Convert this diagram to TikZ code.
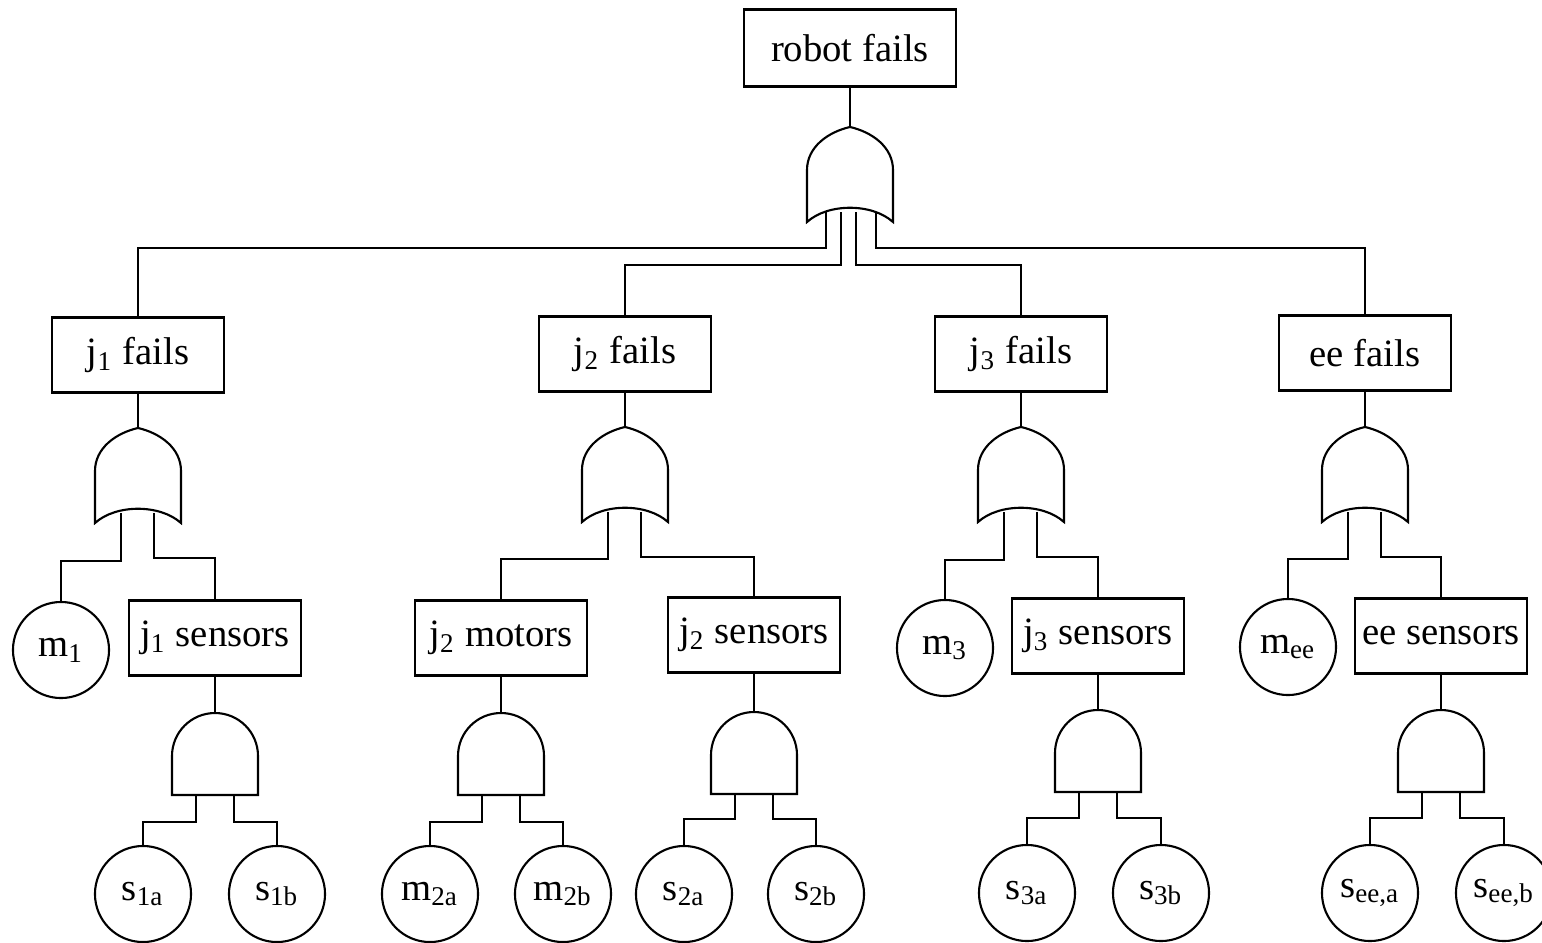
\documentclass[tikz,border=0pt]{standalone}
\usepackage{fontspec}
\setmainfont{Liberation Serif}
\usetikzlibrary{backgrounds}

\tikzset{
	event/.style={draw, fill=white, minimum width=1.72cm, minimum height=0.75cm, inner sep=0pt, font=\fontsize{11}{13}\selectfont},
	basic/.style={draw, circle, fill=white, minimum size=0.96cm, inner sep=0pt, font=\fontsize{11}{13}\selectfont},
	orgate/.pic={
		\draw[fill=white] (-43,95) -- (-43,43) .. controls (-43,20) and (-22,5) .. (0,0) .. controls (22,5) and (43,20) .. (43,43) -- (43,95) .. controls (22,76) and (-22,76) .. cycle;
		\coordinate (-in) at (0,0);
		\coordinate (-l) at (-17,85);
		\coordinate (-r) at (16,85);
		\coordinate (-a) at (-24,85);
		\coordinate (-b) at (-9,85);
		\coordinate (-c) at (6,85);
		\coordinate (-d) at (26,85);
	},
	andgate/.pic={
		\draw[fill=white] (-43,82) -- (-43,43) arc (180:360:43) -- (43,82) -- cycle;
		\coordinate (-in) at (0,0);
		\coordinate (-l) at (-19,80);
		\coordinate (-r) at (19,80);
	},
}

\begin{document}
\begin{tikzpicture}[x=0.01cm, y=-0.01cm, line width=0.6pt]
		\useasboundingbox (0,0) rectangle (1542,942);
		
		% top event
		\node[event, minimum width=2.12cm, minimum height=0.77cm] (root) at (850,48) {robot fails};
		\pic (g0) at (850,127) {orgate};
		
		% intermediate events
		\node[event] (j1f) at (138,355) {j\textsubscript{1} fails};
		\node[event] (j2f) at (625,354) {j\textsubscript{2} fails};
		\node[event] (j3f) at (1021,354) {j\textsubscript{3} fails};
		\node[event] (eef) at (1365,353) {ee fails};
		\pic (g1) at (138,428) {orgate};
		\pic (g2) at (625,427) {orgate};
		\pic (g3) at (1021,427) {orgate};
		\pic (g4) at (1365,427) {orgate};
		
		\node[basic] (m1) at (61,650) {m\textsubscript{1}};
		\node[event] (j1s) at (215,638) {j\textsubscript{1} sensors};
		\node[event] (j2m) at (501,638) {j\textsubscript{2} motors};
		\node[event] (j2s) at (754,635) {j\textsubscript{2} sensors};
		\node[basic] (m3) at (945,648) {m\textsubscript{3}};
		\node[event] (j3s) at (1098,636) {j\textsubscript{3} sensors};
		\node[basic] (mee) at (1288,647) {m\textsubscript{ee}};
		\node[event] (ees) at (1441,636) {ee sensors};
		
		\pic (a1) at (215,713) {andgate};
		\pic (a2) at (501,713) {andgate};
		\pic (a3) at (754,712) {andgate};
		\pic (a4) at (1098,710) {andgate};
		\pic (a5) at (1441,710) {andgate};
		
		% basic events
		\node[basic] (s1a) at (143,894) {s\textsubscript{1a}};
		\node[basic] (s1b) at (277,894) {s\textsubscript{1b}};
		\node[basic] (m2a) at (430,894) {m\textsubscript{2a}};
		\node[basic] (m2b) at (563,894) {m\textsubscript{2b}};
		\node[basic] (s2a) at (684,894) {s\textsubscript{2a}};
		\node[basic] (s2b) at (816,894) {s\textsubscript{2b}};
		\node[basic] (s3a) at (1027,893) {s\textsubscript{3a}};
		\node[basic] (s3b) at (1161,893) {s\textsubscript{3b}};
		\node[basic] (seea) at (1370,893) {s\textsubscript{ee,a}};
		\node[basic] (seeb) at (1504,893) {s\textsubscript{ee,b}};
		
		\begin{scope}[on background layer]
		\draw (root) -- (g0-in);
		\draw (g0-a) -- ++(0,36) -| (j1f.north);
		\draw (g0-b) -- ++(0,53) -| (j2f.north);
		\draw (g0-c) -- ++(0,53) -| (j3f.north);
		\draw (g0-d) -- ++(0,36) -| (eef.north);
		
		\draw (j1f) -- (g1-in);
		\draw (j2f) -- (g2-in);
		\draw (j3f) -- (g3-in);
		\draw (eef) -- (g4-in);
		\draw (g1-l) -- ++(0,48) -| (m1.north);
		\draw (g1-r) -- ++(0,45) -| (j1s.north);
		\draw (g2-l) -- ++(0,47) -| (j2m.north);
		\draw (g2-r) -- ++(0,45) -| (j2s.north);
		\draw (g3-l) -- ++(0,48) -| (m3.north);
		\draw (g3-r) -- ++(0,45) -| (j3s.north);
		\draw (g4-l) -- ++(0,47) -| (mee.north);
		\draw (g4-r) -- ++(0,45) -| (ees.north);
		
		\draw (j1s) -- (a1-in);
		\draw (j2m) -- (a2-in);
		\draw (j2s) -- (a3-in);
		\draw (j3s) -- (a4-in);
		\draw (ees) -- (a5-in);
		\draw (a1-l) -- ++(0,29) -| (s1a.north);
		\draw (a1-r) -- ++(0,29) -| (s1b.north);
		\draw (a2-l) -- ++(0,29) -| (m2a.north);
		\draw (a2-r) -- ++(0,29) -| (m2b.north);
		\draw (a3-l) -- ++(0,27) -| (s2a.north);
		\draw (a3-r) -- ++(0,27) -| (s2b.north);
		\draw (a4-l) -- ++(0,28) -| (s3a.north);
		\draw (a4-r) -- ++(0,28) -| (s3b.north);
		\draw (a5-l) -- ++(0,28) -| (seea.north);
		\draw (a5-r) -- ++(0,28) -| (seeb.north);
		\end{scope}
		
\end{tikzpicture}
\end{document}
